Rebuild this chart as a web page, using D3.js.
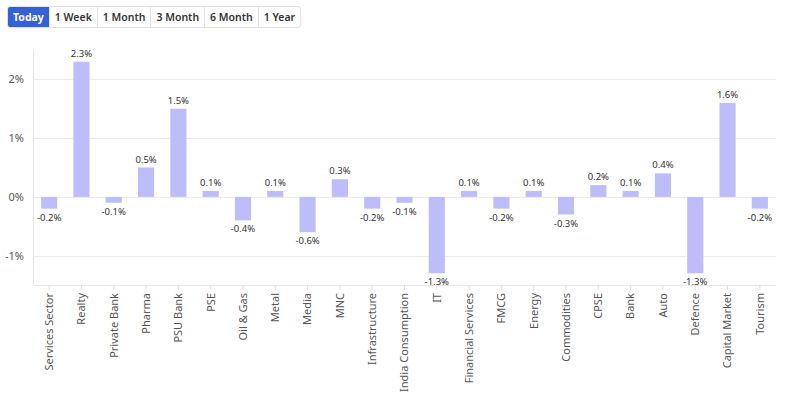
<!DOCTYPE html>
<html>
<head>
<meta charset="utf-8">
<script src="https://cdn.jsdelivr.net/npm/d3@7"></script>
<style>
  body { margin: 0; background: #fff; font-family: "Noto Sans", "Open Sans", sans-serif; }
  #tabs { position: absolute; left: 7px; top: 6px; display: flex; border: 1px solid #e3e3e3; border-radius: 3px; overflow: hidden; }
  #tabs div { font-size: 10.5px; font-weight: 600; color: #333; padding: 0 5px; height: 20px; line-height: 20px; border-left: 1px solid #e3e3e3; }
  #tabs div:first-child { border-left: none; }
  #tabs div.active { background: #3461d9; color: #fff; font-weight: 700; }
  #chart { position: absolute; left: 0; top: 0; }
</style>
</head>
<body>
<div id="chart"></div>
<div id="tabs"></div>
<script>
'use strict';

var periods = ['Today', '1 Week', '1 Month', '3 Month', '6 Month', '1 Year'];
var sectors = ['Services Sector', 'Realty', 'Private Bank', 'Pharma', 'PSU Bank', 'PSE', 'Oil & Gas',
    'Metal', 'Media', 'MNC', 'Infrastructure', 'India Consumption', 'IT', 'Financial Services', 'FMCG',
    'Energy', 'Commodities', 'CPSE', 'Bank', 'Auto', 'Defence', 'Capital Market', 'Tourism'];
var changes = [-0.2, 2.3, -0.1, 0.5, 1.5, 0.1, -0.4, 0.1, -0.6, 0.3, -0.2, -0.1, -1.3, 0.1, -0.2,
    0.1, -0.3, 0.2, 0.1, 0.4, -1.3, 1.6, -0.2];
var yTicks = [-1, 0, 1, 2];

d3.select('#tabs').selectAll('div')
    .data(periods)
    .enter()
    .append('div')
    .attr('class', function (d, i) { return i === 0 ? 'active' : null; })
    .text(function (d) { return d; });

var W = 787, H = 399;
var plotLeft = 33, plotRight = 776, plotTop = 50, plotBottom = 285;

var svg = d3.select('#chart').append('svg').attr('width', W).attr('height', H);

var x = d3.scaleBand().domain(sectors).range([plotLeft, plotRight]).paddingInner(0.5).paddingOuter(0.25);
var y = d3.scaleLinear().domain([-1.5, 2.5]).range([plotBottom, plotTop]);

// grid
svg.selectAll('line.grid')
    .data(yTicks)
    .enter()
    .append('line')
    .attr('x1', plotLeft).attr('x2', plotRight)
    .attr('y1', function (d) { return Math.round(y(d)) + 0.5; })
    .attr('y2', function (d) { return Math.round(y(d)) + 0.5; })
    .attr('stroke', '#ebebeb');

svg.append('line')
    .attr('x1', plotLeft + 0.5).attr('x2', plotLeft + 0.5)
    .attr('y1', plotTop).attr('y2', plotBottom)
    .attr('stroke', '#e6e6e6');

svg.selectAll('text.ylab')
    .data(yTicks)
    .enter()
    .append('text')
    .attr('x', 24)
    .attr('y', function (d) { return y(d) + 4; })
    .attr('text-anchor', 'end')
    .attr('font-size', '11px')
    .attr('fill', '#555')
    .text(function (d) { return d + '%'; });

// bars
svg.selectAll('rect.bar')
    .data(changes)
    .enter()
    .append('rect')
    .attr('x', function (d, i) { return x(sectors[i]); })
    .attr('width', x.bandwidth())
    .attr('y', function (d) { return d >= 0 ? y(d) : y(0); })
    .attr('height', function (d) { return Math.abs(y(d) - y(0)); })
    .attr('fill', '#bdbdfb');

svg.selectAll('text.val')
    .data(changes)
    .enter()
    .append('text')
    .attr('x', function (d, i) { return x(sectors[i]) + x.bandwidth() / 2; })
    .attr('y', function (d) { return d >= 0 ? y(d) - 5 : y(d) + 12; })
    .attr('text-anchor', 'middle')
    .attr('font-size', '9.5px')
    .attr('fill', '#333')
    .text(function (d) { return d.toFixed(1) + '%'; });

// x axis
var xAxis = svg.append('g')
    .attr('transform', 'translate(0,' + plotBottom + ')')
    .call(d3.axisBottom(x).tickSize(5).tickSizeOuter(0));
xAxis.select('.domain').attr('stroke', '#e6e6e6');
xAxis.selectAll('.tick line').attr('stroke', '#e0e0e0');
xAxis.selectAll('.tick text')
    .attr('transform', 'rotate(-90)')
    .attr('text-anchor', 'end')
    .attr('x', -8)
    .attr('y', 0)
    .attr('dy', '0.35em')
    .attr('font-size', '11px')
    .attr('font-family', '"Noto Sans", sans-serif')
    .attr('fill', '#555');
</script>
</body>
</html>
